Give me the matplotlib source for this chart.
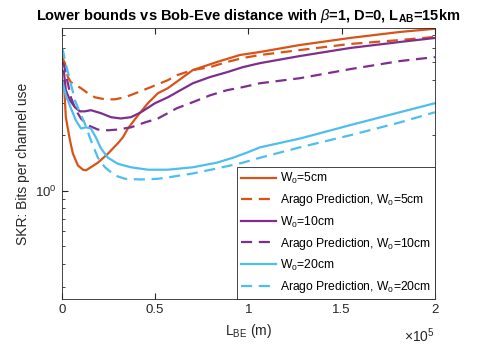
import numpy as np
import matplotlib
matplotlib.use("Agg")
import matplotlib.pyplot as plt
from matplotlib.ticker import FuncFormatter, LogLocator, NullFormatter

plt.rcParams['font.family'] = ['Liberation Sans', 'DejaVu Sans']
plt.rcParams['mathtext.fontset'] = 'custom'
plt.rcParams['mathtext.rm'] = 'Liberation Sans'
plt.rcParams['mathtext.it'] = 'Liberation Sans:italic'
plt.rcParams['mathtext.bf'] = 'Liberation Sans:bold'

# distances in km, SKR in bits per channel use
x_w5 = [0, 1.1, 2.1, 4.3, 5.9, 8.6, 11.3, 12.9, 15.5, 19.3, 24.7, 30.0, 32.7, 35.4,
        40.8, 46.1, 51.5, 56.8, 70.2, 83.1, 95.4, 106.2, 127.6, 154.4, 181.2, 200]
y_w5 = [3.99, 3.84, 2.51, 1.88, 1.59, 1.37, 1.30, 1.29, 1.34, 1.42, 1.59, 1.81, 1.95, 2.18,
        2.57, 2.99, 3.39, 3.61, 4.53, 5.01, 5.47, 5.68, 6.20, 6.77, 7.30, 7.60]

x_w5_arago = [0, 1.6, 3.2, 4.8, 7.5, 10.2, 13.9, 17.7, 23.1, 28.4, 33.8, 40.8, 47.7,
              56.8, 61.7, 70.2, 79.4, 88.5, 97.1, 106.2, 127.6, 154.4, 181.2, 200]
y_w5_arago = [5.33, 4.94, 4.15, 3.89, 3.75, 3.61, 3.39, 3.22, 3.14, 3.14, 3.22, 3.43, 3.66,
              3.99, 4.25, 4.53, 4.70, 5.01, 5.27, 5.47, 5.82, 6.28, 6.60, 6.86]

x_w10 = [0, 1.1, 2.1, 4.3, 7.0, 9.7, 12.3, 15.5, 20.9, 26.3, 31.6, 37.0, 42.4, 49.9,
         56.8, 70.2, 79.4, 88.5, 97.1, 106.2, 127.6, 154.4, 181.2, 200]
y_w10 = [4.53, 4.41, 3.52, 3.10, 2.84, 2.70, 2.70, 2.74, 2.64, 2.51, 2.47, 2.51, 2.67, 2.99,
         3.22, 3.84, 4.15, 4.41, 4.70, 4.94, 5.40, 5.97, 6.44, 6.77]

x_w10_arago = [0, 1.1, 4.8, 7.5, 10.2, 13.9, 19.3, 24.7, 30.0, 37.0, 44.5, 51.5, 61.7,
               70.2, 79.4, 88.5, 97.1, 106.2, 127.6, 154.4, 181.2, 200]
y_w10_arago = [5.01, 4.82, 3.22, 2.74, 2.47, 2.27, 2.15, 2.13, 2.15, 2.21, 2.35, 2.47, 2.81,
               3.03, 3.30, 3.52, 3.66, 3.84, 4.09, 4.58, 5.07, 5.33]

x_w20 = [0, 0.5, 2.1, 4.8, 7.5, 10.2, 12.9, 15.5, 18.2, 20.9, 24.7, 30.0, 37.0, 46.1,
         56.8, 70.2, 83.1, 91.7, 99.2, 106.2, 127.6, 154.4, 181.2, 200]
y_w20 = [3.99, 3.84, 3.30, 2.81, 2.41, 2.18, 2.21, 2.18, 1.95, 1.70, 1.51, 1.40, 1.34, 1.30,
         1.30, 1.34, 1.42, 1.51, 1.61, 1.72, 1.92, 2.27, 2.67, 2.99]

x_w20_arago = [0, 0.5, 1.6, 4.3, 7.0, 9.7, 12.3, 15.5, 19.3, 23.1, 28.4, 33.8, 42.4, 51.5,
               56.8, 70.2, 83.1, 97.1, 106.2, 127.6, 154.4, 181.2, 200]
y_w20_arago = [5.97, 5.82, 5.13, 3.99, 3.10, 2.64, 2.32, 1.88, 1.51, 1.34, 1.21, 1.16, 1.15,
               1.16, 1.18, 1.24, 1.32, 1.42, 1.51, 1.72, 2.00, 2.35, 2.67]

orange = '#D95319'
purple = '#7E2F8E'
blue = '#4DBEEE'

fig = plt.figure(figsize=(4.8, 3.49), dpi=100)
ax = fig.add_axes([0.129, 0.143, 0.777, 0.777])

series = [
    (x_w5, y_w5, orange, '-', 'W$_0$=5cm'),
    (x_w5_arago, y_w5_arago, orange, '--', 'Arago Prediction, W$_0$=5cm'),
    (x_w10, y_w10, purple, '-', 'W$_0$=10cm'),
    (x_w10_arago, y_w10_arago, purple, '--', 'Arago Prediction, W$_0$=10cm'),
    (x_w20, y_w20, blue, '-', 'W$_0$=20cm'),
    (x_w20_arago, y_w20_arago, blue, '--', 'Arago Prediction, W$_0$=20cm'),
]
for xs, ys, c, ls, lab in series:
    line, = ax.plot(np.array(xs) * 1e3, ys, color=c, ls=ls, lw=1.6, label=lab)
    if ls == '--':
        line.set_dashes((5, 3))

ax.set_yscale('log')
ax.set_xlim(0, 2e5)
ax.set_ylim(0.257, 7.68)
ax.yaxis.set_major_locator(LogLocator(base=10))
ax.yaxis.set_minor_locator(LogLocator(base=10, subs=np.arange(2, 10)))
ax.yaxis.set_minor_formatter(NullFormatter())
ax.set_xticks([0, 0.5e5, 1e5, 1.5e5, 2e5])
ax.xaxis.set_major_formatter(FuncFormatter(lambda v, p: f'{v / 1e5:g}'))

ax.tick_params(which='both', direction='in', top=True, right=True,
               labelsize=9.5, colors='#262626')
ax.tick_params(which='major', length=4)
ax.tick_params(which='minor', length=2.5)
for s in ax.spines.values():
    s.set_color('#262626')
    s.set_linewidth(0.6)

ax.text(1.0, -0.1, r'$\times10^{5}$', transform=ax.transAxes, ha='right', va='top',
        fontsize=10, color='#262626')
ax.set_xlabel('L$_{\\mathrm{BE}}$ (m)', fontsize=10, color='#262626')
ax.set_ylabel('SKR: Bits per channel use', fontsize=10, color='#262626')
ax.set_title(r'Lower bounds vs Bob-Eve distance with $\beta$=1, D=0, L$_{\mathbf{AB}}$=15km',
             fontsize=10.5, fontweight='bold', pad=6)

leg = ax.legend(loc='lower right', borderaxespad=0, fancybox=False, framealpha=1,
                edgecolor='#262626', fontsize=8.7, handlelength=2.9, labelspacing=0.5,
                borderpad=0.35, handletextpad=0.3)
leg.get_frame().set_linewidth(0.6)

fig.savefig('out.png', dpi=100)
